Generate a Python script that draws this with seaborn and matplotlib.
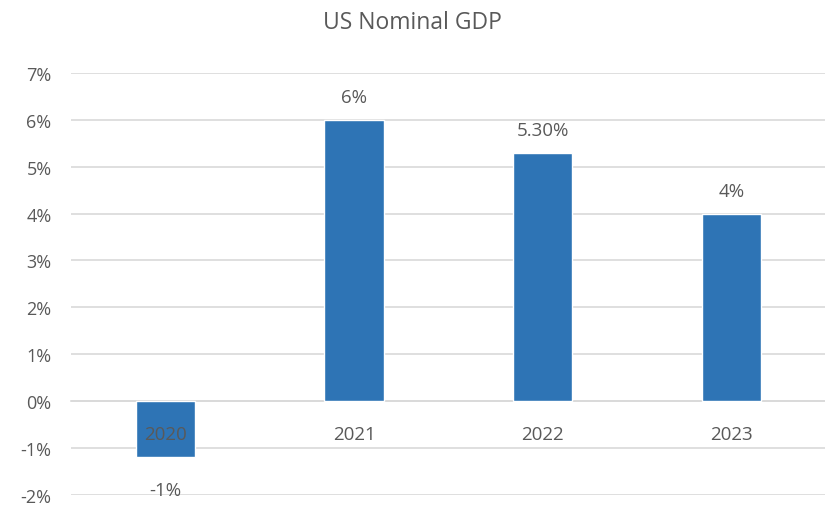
import pandas as pd
import matplotlib
matplotlib.use("Agg")
import matplotlib.pyplot as plt
import seaborn as sns

# chart data
years = ["2020", "2021", "2022", "2023"]
growth = [-1.2, 6.0, 5.3, 4.0]
value_labels = ["-1%", "6%", "5.30%", "4%"]
y_ticks = [-2, -1, 0, 1, 2, 3, 4, 5, 6, 7]

df = pd.DataFrame({"year": years, "growth": growth})

sns.set_style("white")
plt.rcParams["font.family"] = ["Open Sans", "DejaVu Sans"]
text_color = "#595959"

fig = plt.figure(figsize=(8.25, 5.06), dpi=100)
ax = fig.add_axes([0.086, 0.020, 0.915, 0.834])

sns.barplot(data=df, x="year", y="growth", color="#2E74B5", width=0.315,
            saturation=1, ax=ax, zorder=3)

ax.set_ylim(-2, 7)
ax.set_yticks(y_ticks)
ax.set_yticklabels([f"{t}%" for t in y_ticks])
ax.yaxis.grid(True, color="#D9D9D9", linewidth=1.2)
ax.set_axisbelow(True)
# year labels sit on top of the bars (2020 overlaps its bar)
ax.xaxis.set_zorder(5)

# category axis sits on the zero line
for side in ["top", "right", "left"]:
    ax.spines[side].set_visible(False)
ax.spines["bottom"].set_position(("data", 0))
ax.spines["bottom"].set_color("#D9D9D9")
ax.spines["bottom"].set_linewidth(1.2)
ax.spines["bottom"].set_zorder(1)

ax.tick_params(axis="x", length=0, pad=17, labelsize=13.5, labelcolor=text_color)
ax.tick_params(axis="y", length=0, pad=14, labelsize=13, labelcolor=text_color)
ax.set_xlabel("")
ax.set_ylabel("")

# data labels: positive ones above, the negative one a bit further below
pos_labels = [t if v >= 0 else "" for t, v in zip(value_labels, growth)]
neg_labels = [t if v < 0 else "" for t, v in zip(value_labels, growth)]
ax.bar_label(ax.containers[0], labels=pos_labels, padding=10,
             fontsize=13.5, color=text_color)
ax.bar_label(ax.containers[0], labels=neg_labels, padding=17,
             fontsize=13.5, color=text_color)

fig.suptitle("US Nominal GDP", y=0.978, fontsize=16.5, color=text_color)

fig.savefig("out.png", dpi=100)
